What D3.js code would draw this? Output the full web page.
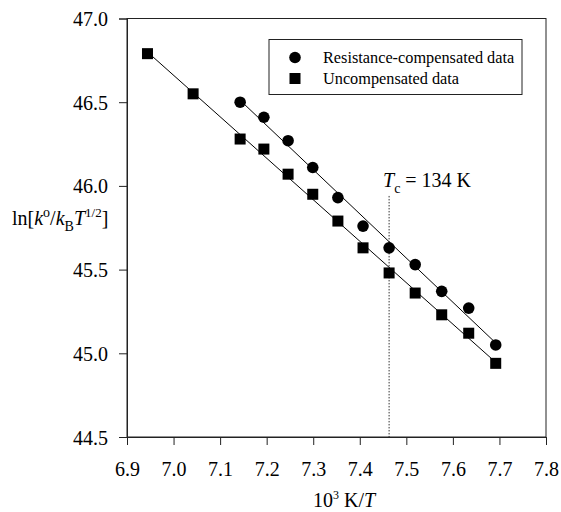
<!DOCTYPE html>
<html>
<head>
<meta charset="utf-8">
<script src="https://cdn.jsdelivr.net/npm/d3@7"></script>
<style>
  body { margin: 0; background: #fff; }
  svg text { font-family: "Liberation Serif", "Times New Roman", serif; fill: #000; }
</style>
</head>
<body>
<svg id="chart" width="561" height="512"></svg>
<script>
// 10^3 K/T values and ln[k°/kB T^1/2]
const compX = [7.143, 7.194, 7.246, 7.299, 7.353, 7.407, 7.463, 7.519, 7.576, 7.634, 7.692];
const compY = [46.50, 46.41, 46.27, 46.11, 45.93, 45.76, 45.63, 45.53, 45.37, 45.27, 45.05];
const uncompX = [6.944, 7.042, 7.143, 7.194, 7.246, 7.299, 7.353, 7.407, 7.463, 7.519, 7.576, 7.634, 7.692];
const uncompY = [46.79, 46.55, 46.28, 46.22, 46.07, 45.95, 45.79, 45.63, 45.48, 45.36, 45.23, 45.12, 44.94];
const xTicks = [6.9, 7.0, 7.1, 7.2, 7.3, 7.4, 7.5, 7.6, 7.7, 7.8];
const yTicks = [44.5, 45.0, 45.5, 46.0, 46.5, 47.0];
const tcX = 7.463;
const tcTop = 45.94;
const legendLabels = ['Resistance-compensated data', 'Uncompensated data'];

const serif = 'Liberation Serif, Times New Roman, serif';
const svg = d3.select('#chart').attr('font-family', serif);
const plotL = 127, plotR = 546, plotT = 18.5, plotB = 437;

const x = d3.scaleLinear().domain([6.9, 7.8]).range([plotL, plotR]);
const y = d3.scaleLinear().domain([44.5, 47.0]).range([plotB, plotT]);

// frame
svg.append('rect')
  .attr('x', plotL).attr('y', plotT)
  .attr('width', plotR - plotL).attr('height', plotB - plotT)
  .attr('fill', 'none').attr('stroke', '#222').attr('stroke-width', 1);

const xAxis = svg.append('g')
  .attr('transform', `translate(0,${plotB})`)
  .call(d3.axisBottom(x).tickValues(xTicks).tickFormat(d3.format('.1f')).tickSize(8).tickPadding(17));
const yAxis = svg.append('g')
  .attr('transform', `translate(${plotL},0)`)
  .call(d3.axisLeft(y).tickValues(yTicks).tickFormat(d3.format('.1f')).tickSize(8).tickPadding(11));

[xAxis, yAxis].forEach(a => {
  a.attr('font-family', serif).attr('font-size', 20);
  a.select('.domain').attr('stroke', '#222');
  a.selectAll('.tick line').attr('stroke', '#222');
  a.selectAll('.tick text').attr('fill', '#000');
});
yAxis.selectAll('.tick text').attr('dy', '0.35em');

// Tc dotted line
svg.append('line')
  .attr('x1', x(tcX)).attr('x2', x(tcX))
  .attr('y1', y(tcTop)).attr('y2', plotB)
  .attr('stroke', '#333').attr('stroke-width', 1)
  .attr('stroke-dasharray', '1.5,1.5');

const tc = svg.append('text')
  .attr('x', 383).attr('y', 187)
  .attr('font-size', 20);
tc.append('tspan').style('font-style', 'italic').text('T');
tc.append('tspan').attr('dy', 6).attr('font-size', 14).text('c');
tc.append('tspan').attr('dy', -6).text(' = 134 K');

// regression lines
function fit(xs, ys) {
  const mx = d3.mean(xs), my = d3.mean(ys);
  let num = 0, den = 0;
  xs.forEach((v, i) => { num += (v - mx) * (ys[i] - my); den += (v - mx) * (v - mx); });
  const b = num / den;
  return { b: b, a: my - b * mx };
}

[[compX, compY], [uncompX, uncompY]].forEach(([xs, ys]) => {
  const f = fit(xs, ys);
  const x0 = d3.min(xs), x1 = d3.max(xs);
  svg.append('line')
    .attr('x1', x(x0)).attr('y1', y(f.a + f.b * x0))
    .attr('x2', x(x1)).attr('y2', y(f.a + f.b * x1))
    .attr('stroke', '#000').attr('stroke-width', 1);
});

// points
svg.append('g').selectAll('circle')
  .data(compX)
  .enter()
  .append('circle')
  .attr('cx', (d) => x(d))
  .attr('cy', (d, i) => y(compY[i]))
  .attr('r', 5.8)
  .attr('fill', '#000');

const sq = 11;
svg.append('g').selectAll('rect')
  .data(uncompX)
  .enter()
  .append('rect')
  .attr('x', (d) => x(d) - sq / 2)
  .attr('y', (d, i) => y(uncompY[i]) - sq / 2)
  .attr('width', sq).attr('height', sq)
  .attr('fill', '#000');

// legend
const lg = svg.append('g');
lg.append('rect')
  .attr('x', 269).attr('y', 39.5).attr('width', 253).attr('height', 55)
  .attr('fill', '#fff').attr('stroke', '#222');
lg.append('circle').attr('cx', 295).attr('cy', 57.5).attr('r', 5.8).attr('fill', '#000');
lg.append('rect').attr('x', 295 - sq / 2).attr('y', 78.5 - sq / 2)
  .attr('width', sq).attr('height', sq).attr('fill', '#000');
lg.selectAll('text.lbl')
  .data(legendLabels)
  .enter()
  .append('text')
  .attr('class', 'lbl')
  .attr('x', 323)
  .attr('y', (d, i) => 63 + i * 21)
  .attr('font-size', 16.3)
  .text((d) => d);

// axis titles
const xt = svg.append('text')
  .attr('x', 344).attr('y', 507)
  .attr('text-anchor', 'middle')
  .attr('font-size', 20);
xt.append('tspan').text('10');
xt.append('tspan').attr('dy', -8).attr('font-size', 12).text('3');
xt.append('tspan').attr('dy', 8).text(' K/');
xt.append('tspan').style('font-style', 'italic').text('T');

const yt = svg.append('text')
  .attr('x', 12).attr('y', 225)
  .attr('font-size', 20);
yt.append('tspan').text('ln[');
yt.append('tspan').style('font-style', 'italic').text('k');
yt.append('tspan').attr('dy', -8).attr('font-size', 14).text('o');
yt.append('tspan').attr('dy', 8).text('/');
yt.append('tspan').style('font-style', 'italic').text('k');
yt.append('tspan').attr('dy', 6).attr('font-size', 14).text('B');
yt.append('tspan').attr('dy', -6).style('font-style', 'italic').text('T');
yt.append('tspan').attr('dy', -8).attr('font-size', 13).text('1/2');
yt.append('tspan').attr('dy', 8).text(']');
</script>
</body>
</html>
